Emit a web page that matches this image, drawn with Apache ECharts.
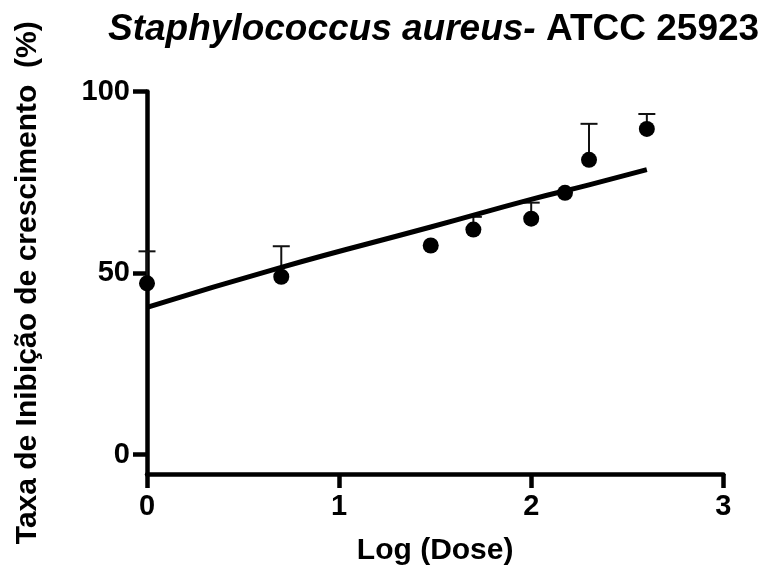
<!DOCTYPE html>
<html>
<head>
<meta charset="utf-8">
<script src="https://cdn.jsdelivr.net/npm/echarts@6/dist/echarts.min.js"></script>
<style>
html,body{margin:0;padding:0;background:#fff;}
#chart{width:769px;height:571px;}
</style>
</head>
<body>
<div id="chart"></div>
<script>
// Data
const logDose = [0, 0.699, 1.477, 1.699, 2.0, 2.176, 2.301, 2.602];
const meanInhibition = [47.2, 49.0, 57.6, 62.0, 65.0, 72.1, 81.2, 89.7];
const upperError = [56.0, 57.4, null, 65.5, 69.4, null, 91.1, 93.8];
const fitLogDose = [0, 0.699, 1.477, 2.0, 2.301, 2.602];
const fitInhibition = [40.6, 51.6, 62.7, 70.3, 74.3, 78.5];
const xTicks = [0, 1, 2, 3];
const yTicks = [0, 50, 100];

const FONT = '"Liberation Sans", Arial, Helvetica, sans-serif';

const pointData = logDose.map((x, i) => [x, meanInhibition[i]]);
const errData = [];
logDose.forEach((x, i) => { if (upperError[i] != null) errData.push([x, meanInhibition[i], upperError[i]]); });
const fitData = fitLogDose.map((x, i) => [x, fitInhibition[i]]);

const chart = echarts.init(document.getElementById('chart'), null, {renderer: 'canvas'});
chart.setOption({
  animation: false,
  backgroundColor: '#ffffff',
  title: {
    text: '{i|Staphylococcus aureus-} {b|ATCC 25923}',
    left: 108,
    top: 11,
    padding: 0,
    textStyle: {
      fontFamily: FONT,
      fontSize: 37,
      fontWeight: 'bold',
      color: '#000',
      rich: {
        i: {fontFamily: FONT, fontSize: 37, fontWeight: 'bold', fontStyle: 'italic', color: '#000'},
        b: {fontFamily: FONT, fontSize: 37, fontWeight: 'bold', color: '#000'}
      }
    }
  },
  grid: {left: 147, right: 45.7, top: 91.5, bottom: 95, containLabel: false},
  xAxis: {
    type: 'value',
    min: 0,
    max: 3,
    interval: 1,
    name: 'Log (Dose)',
    nameLocation: 'middle',
    nameGap: 62,
    nameTextStyle: {fontFamily: FONT, fontSize: 30, fontWeight: 'bold', color: '#000'},
    axisLine: {show: true, onZero: false, lineStyle: {color: '#000', width: 4.5}},
    axisTick: {show: true, length: 14, lineStyle: {color: '#000', width: 4.5}, customValues: xTicks},
    axisLabel: {fontFamily: FONT, fontSize: 29, fontWeight: 'bold', color: '#000', margin: 18, customValues: xTicks},
    splitLine: {show: false}
  },
  yAxis: {
    type: 'value',
    min: -5.3,
    max: 100,
    name: 'Taxa de Inibição de crescimento  (%)',
    nameLocation: 'middle',
    nameGap: 104,
    nameTextStyle: {fontFamily: FONT, fontSize: 30, fontWeight: 'bold', color: '#000'},
    axisLine: {show: true, onZero: false, lineStyle: {color: '#000', width: 4.5}},
    axisTick: {show: true, length: 14, lineStyle: {color: '#000', width: 4.5}, customValues: yTicks},
    axisLabel: {fontFamily: FONT, fontSize: 29, fontWeight: 'bold', color: '#000', margin: 17, customValues: yTicks},
    splitLine: {show: false}
  },
  series: [
    {
      type: 'custom',
      name: 'SEM',
      z: 1,
      renderItem: function (params, api) {
        const p0 = api.coord([api.value(0), api.value(1)]);
        const p1 = api.coord([api.value(0), api.value(2)]);
        const hw = 8.5;
        return {
          type: 'group',
          children: [
            {type: 'line', shape: {x1: p0[0], y1: p0[1], x2: p1[0], y2: p1[1]}, style: {stroke: '#111', lineWidth: 2}},
            {type: 'line', shape: {x1: p1[0] - hw, y1: p1[1], x2: p1[0] + hw, y2: p1[1]}, style: {stroke: '#111', lineWidth: 2}}
          ]
        };
      },
      data: errData
    },
    {
      type: 'line',
      name: 'Fit',
      z: 2,
      smooth: true,
      symbol: 'none',
      lineStyle: {color: '#000', width: 5},
      data: fitData
    },
    {
      type: 'scatter',
      name: 'Mean',
      z: 3,
      symbol: 'circle',
      symbolSize: 16,
      itemStyle: {color: '#000', opacity: 1},
      data: pointData
    }
  ]
});
</script>
</body>
</html>
